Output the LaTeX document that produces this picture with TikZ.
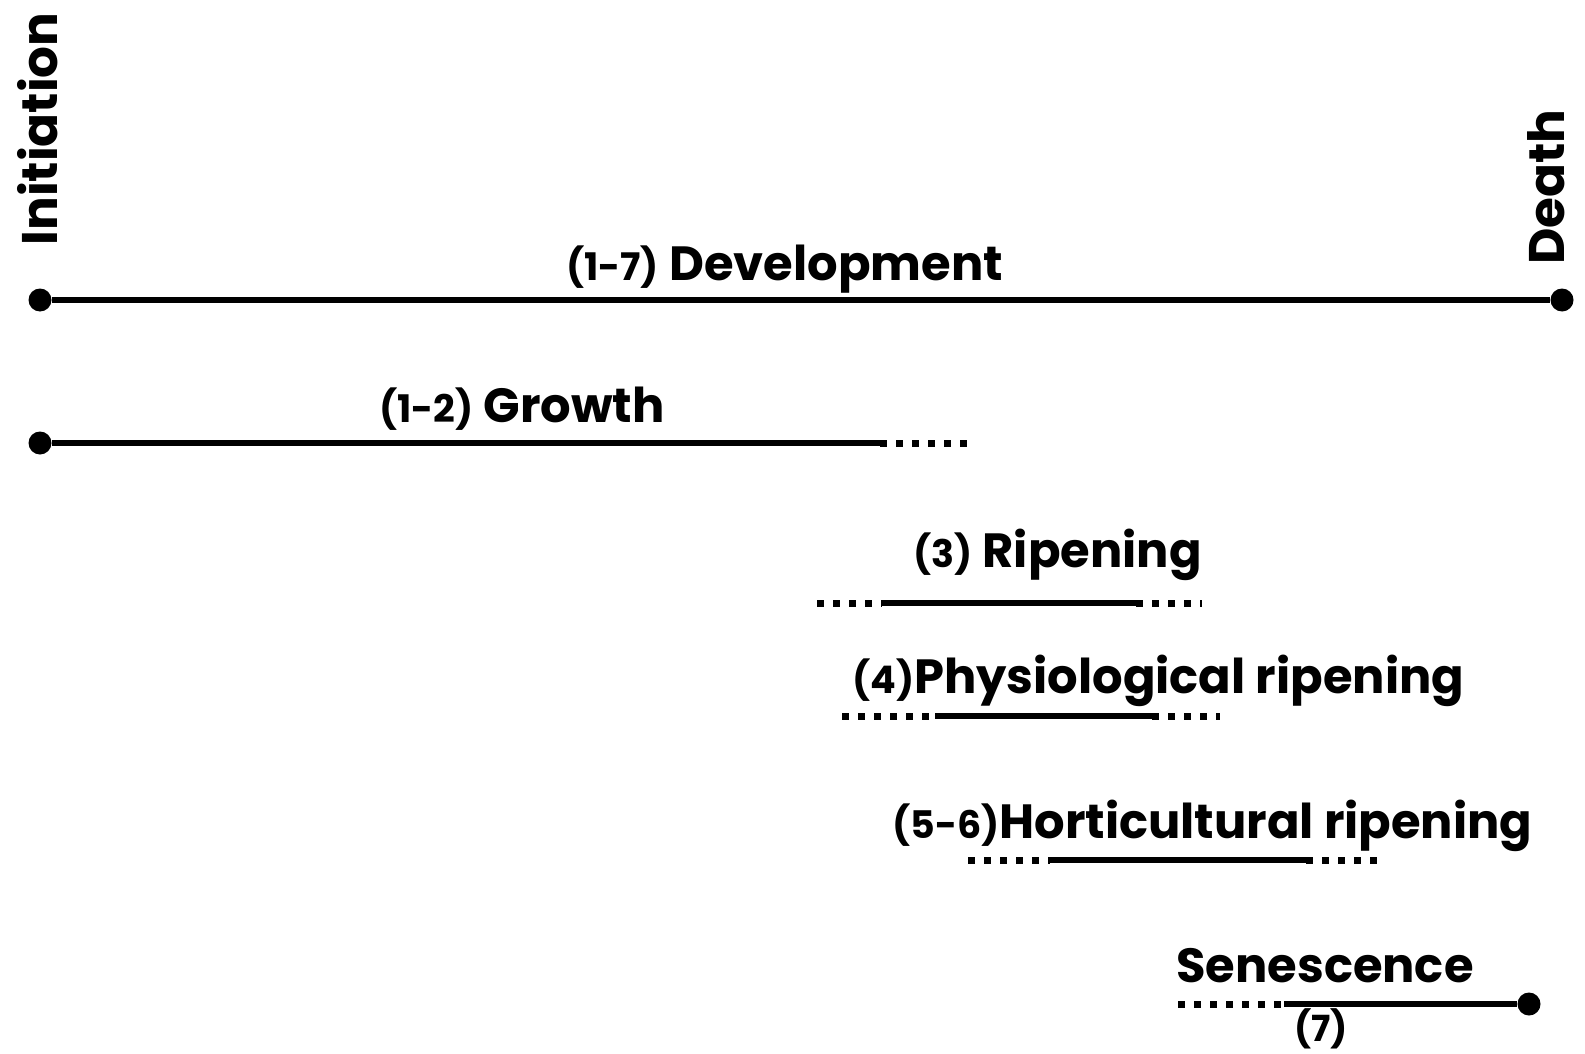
\documentclass[tikz,border=0pt]{standalone}
\usepackage{fontspec}
\setmainfont{Poppins}
\usepackage{tikz}
\usetikzlibrary{positioning}

\newcommand{\numsz}{\fontsize{38}{44}\selectfont}

\begin{document}
\begin{tikzpicture}[
  x=1pt, y=-1pt,
  lbl/.style={font=\fontsize{48}{56}\selectfont\bfseries, inner sep=0pt, anchor=base west},
  endlbl/.style={font=\fontsize{50}{58}\selectfont\bfseries, inner sep=0pt, rotate=90},
  dot/.style={circle, fill=black, inner sep=0pt, minimum size=23pt},
  bar/.style={line width=6pt},
  dots/.style={line width=7pt, dash pattern=on 7pt off 9pt}
]
\useasboundingbox (0,0) rectangle (1585,1054);

% development
\node[dot] (init) at (40,300) {};
\node[dot] (death) at (1562,300) {};
\draw[bar] (init) -- (death);
\node[lbl] (devlbl) at (566,280) {{\numsz(1-7)} Development};
\node[endlbl] (initlbl) at (38,129) {Initiation};
\node[endlbl] (deathlbl) at (1546,187) {Death};

% growth
\node[dot] (gstart) at (40,443) {};
\coordinate (gmid) at (880,443);
\coordinate (gend) at (975,443);
\draw[bar] (gstart) -- (gmid);
\draw[dots] (gmid) -- (gend);
\node[lbl] (growlbl) at (379,422) {{\numsz(1-2)} Growth};

% ripening
\coordinate (r1) at (817,603);
\coordinate (r2) at (882,603);
\coordinate (r3) at (1136,603);
\coordinate (r4) at (1202,603);
\draw[dots] (r1) -- (r2);
\draw[bar] (r2) -- (r3);
\draw[dots] (r3) -- (r4);
\node[lbl] (riplbl) at (913,567) {{\numsz(3)} Ripening};

% physiological ripening
\coordinate (p1) at (842,716);
\coordinate (p2) at (935,716);
\coordinate (p3) at (1152,716);
\coordinate (p4) at (1220,716);
\draw[dots] (p1) -- (p2);
\draw[bar] (p2) -- (p3);
\draw[dots] (p3) -- (p4);
\node[lbl] (phylbl) at (852,693) {{\numsz(4)}Physiological ripening};

% horticultural ripening
\coordinate (h1) at (968,860);
\coordinate (h2) at (1050,860);
\coordinate (h3) at (1306,860);
\coordinate (h4) at (1382,860);
\draw[dots] (h1) -- (h2);
\draw[bar] (h2) -- (h3);
\draw[dots] (h3) -- (h4);
\node[lbl] (horlbl) at (892,838) {{\numsz(5-6)}Horticultural ripening};

% senescence
\coordinate (s1) at (1178,1004);
\coordinate (s2) at (1284,1004);
\node[dot] (send) at (1529,1004) {};
\draw[dots] (s1) -- (s2);
\draw[bar] (s2) -- (send);
\node[lbl] (senlbl) at (1176,982) {Senescence};
\node[font=\fontsize{36}{42}\selectfont\bfseries, inner sep=0pt] (senum) at (1321,1029) {(7)};
\end{tikzpicture}
\end{document}
